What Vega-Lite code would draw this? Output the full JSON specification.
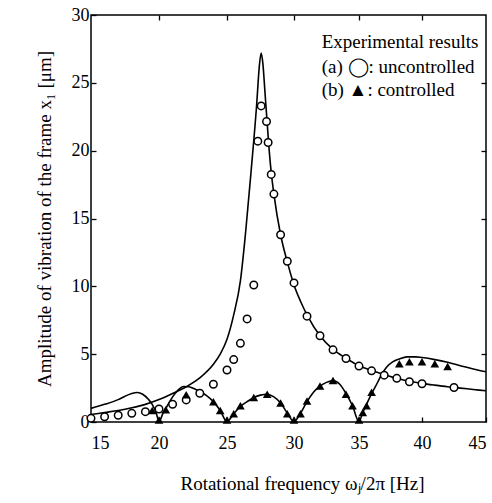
{
  "$schema": "https://vega.github.io/schema/vega-lite/v6.json",
  "width": 395,
  "height": 407,
  "autosize": "none",
  "padding": {"left": 91, "top": 15, "right": 6, "bottom": 81},
  "background": "white",
  "config": {
    "view": {"stroke": "black", "strokeWidth": 1.5},
    "font": "Liberation Serif",
    "axis": {"grid": false, "domain": false, "tickColor": "black", "tickWidth": 1.3, "tickSize": -5, "labelFont": "Liberation Serif", "labelFontSize": 18, "labelColor": "black", "titleFont": "Liberation Serif", "titleFontSize": 19, "titleFontWeight": "normal", "titleColor": "black"}
  },
  "datasets": {
    "uncTheory": [
      {"x": 15, "y": 0.55}, {"x": 16, "y": 0.7}, {"x": 17, "y": 0.85}, {"x": 18, "y": 1.05}, {"x": 19, "y": 1.3},
      {"x": 20, "y": 1.65}, {"x": 21, "y": 2.1}, {"x": 22, "y": 2.6}, {"x": 23, "y": 3.25}, {"x": 24, "y": 4.25},
      {"x": 24.5, "y": 5.0}, {"x": 25, "y": 6.1}, {"x": 25.5, "y": 7.9}, {"x": 26, "y": 10.4}, {"x": 26.4, "y": 14.1},
      {"x": 26.8, "y": 18.5}, {"x": 27.2, "y": 23.2}, {"x": 27.42, "y": 26.3}, {"x": 27.55, "y": 27.2}, {"x": 27.68, "y": 26.4},
      {"x": 27.82, "y": 24.5}, {"x": 28.0, "y": 22.0}, {"x": 28.15, "y": 20.0}, {"x": 28.3, "y": 18.4}, {"x": 28.5, "y": 16.8},
      {"x": 29, "y": 13.8}, {"x": 29.5, "y": 11.8}, {"x": 30, "y": 10.1}, {"x": 30.5, "y": 8.9}, {"x": 31, "y": 7.9},
      {"x": 32, "y": 6.35}, {"x": 33, "y": 5.35}, {"x": 34, "y": 4.7}, {"x": 35, "y": 4.15}, {"x": 36, "y": 3.8},
      {"x": 37, "y": 3.5}, {"x": 38, "y": 3.22}, {"x": 39, "y": 3.0}, {"x": 40, "y": 2.85}, {"x": 41, "y": 2.72},
      {"x": 42, "y": 2.6}, {"x": 43, "y": 2.5}, {"x": 44, "y": 2.4}, {"x": 45, "y": 2.3}
    ],
    "ctlTheory": [
      {"x": 15, "y": 1.0}, {"x": 16, "y": 1.3}, {"x": 17, "y": 1.65}, {"x": 17.5, "y": 1.9}, {"x": 18, "y": 2.1},
      {"x": 18.4, "y": 2.17}, {"x": 18.8, "y": 2.05}, {"x": 19.2, "y": 1.7}, {"x": 19.5, "y": 1.3}, {"x": 19.8, "y": 0.65},
      {"x": 20.0, "y": 0.05}, {"x": 20.3, "y": 0.65}, {"x": 20.7, "y": 1.35}, {"x": 21.0, "y": 1.85}, {"x": 21.4, "y": 2.35},
      {"x": 21.8, "y": 2.62}, {"x": 22.2, "y": 2.6}, {"x": 22.6, "y": 2.45}, {"x": 23.0, "y": 2.25}, {"x": 23.5, "y": 1.95},
      {"x": 24.0, "y": 1.5}, {"x": 24.5, "y": 0.85}, {"x": 25.0, "y": 0.03}, {"x": 25.5, "y": 0.6}, {"x": 26.0, "y": 1.15},
      {"x": 26.5, "y": 1.5}, {"x": 27.0, "y": 1.8}, {"x": 27.5, "y": 1.98}, {"x": 28.0, "y": 2.05}, {"x": 28.5, "y": 1.85},
      {"x": 29.0, "y": 1.4}, {"x": 29.5, "y": 0.65}, {"x": 30.0, "y": 0.03}, {"x": 30.5, "y": 0.65}, {"x": 31.0, "y": 1.5},
      {"x": 31.5, "y": 2.2}, {"x": 32.0, "y": 2.65}, {"x": 32.5, "y": 2.92}, {"x": 33.0, "y": 3.05}, {"x": 33.5, "y": 2.8},
      {"x": 34.0, "y": 2.1}, {"x": 34.5, "y": 1.2}, {"x": 35.0, "y": 0.03}, {"x": 35.3, "y": 0.7}, {"x": 35.6, "y": 1.3},
      {"x": 36.0, "y": 2.1}, {"x": 36.3, "y": 2.6}, {"x": 36.8, "y": 3.5}, {"x": 37.2, "y": 4.05}, {"x": 37.7, "y": 4.45},
      {"x": 38.2, "y": 4.65}, {"x": 38.8, "y": 4.8}, {"x": 39.5, "y": 4.8}, {"x": 40.0, "y": 4.75}, {"x": 41.0, "y": 4.6},
      {"x": 42.0, "y": 4.4}, {"x": 43.0, "y": 4.15}, {"x": 44.0, "y": 3.9}, {"x": 45.0, "y": 3.7}
    ],
    "unc": [
      {"x": 15, "y": 0.27}, {"x": 16, "y": 0.39}, {"x": 17, "y": 0.5}, {"x": 18, "y": 0.64}, {"x": 19, "y": 0.76},
      {"x": 20, "y": 0.96}, {"x": 21, "y": 1.31}, {"x": 22, "y": 1.63}, {"x": 23, "y": 2.12}, {"x": 24, "y": 2.78},
      {"x": 25, "y": 3.83}, {"x": 25.5, "y": 4.6}, {"x": 26, "y": 5.8}, {"x": 26.5, "y": 7.6}, {"x": 27, "y": 10.1},
      {"x": 27.3, "y": 20.7}, {"x": 27.55, "y": 23.3}, {"x": 27.95, "y": 22.15}, {"x": 28.07, "y": 20.6}, {"x": 28.3, "y": 18.25},
      {"x": 28.5, "y": 16.8}, {"x": 29, "y": 13.8}, {"x": 29.5, "y": 11.85}, {"x": 30, "y": 10.25}, {"x": 31, "y": 7.8},
      {"x": 32, "y": 6.36}, {"x": 33, "y": 5.32}, {"x": 34, "y": 4.68}, {"x": 35, "y": 4.12}, {"x": 36, "y": 3.77},
      {"x": 37, "y": 3.45}, {"x": 38, "y": 3.22}, {"x": 39, "y": 2.97}, {"x": 40, "y": 2.82}, {"x": 42.5, "y": 2.54}
    ],
    "ctl": [
      {"x": 19.5, "y": 0.85}, {"x": 20.0, "y": 0.15}, {"x": 20.5, "y": 0.9}, {"x": 22.0, "y": 2.0}, {"x": 24.0, "y": 1.5},
      {"x": 24.5, "y": 0.85}, {"x": 25.0, "y": 0.15}, {"x": 25.5, "y": 0.6}, {"x": 26.0, "y": 1.2}, {"x": 27.0, "y": 1.8},
      {"x": 28.0, "y": 2.05}, {"x": 29.0, "y": 1.4}, {"x": 29.5, "y": 0.6}, {"x": 30.0, "y": 0.15}, {"x": 30.5, "y": 0.6},
      {"x": 31.0, "y": 1.55}, {"x": 32.0, "y": 2.65}, {"x": 33.0, "y": 3.05}, {"x": 34.0, "y": 2.05}, {"x": 34.5, "y": 1.2},
      {"x": 35.0, "y": 0.15}, {"x": 35.3, "y": 0.7}, {"x": 35.6, "y": 1.2}, {"x": 36.0, "y": 2.2}, {"x": 38.2, "y": 4.3},
      {"x": 39.0, "y": 4.45}, {"x": 40.0, "y": 4.45}, {"x": 41.0, "y": 4.3}, {"x": 42.0, "y": 4.1}
    ],
    "legend": [
      {"x": 32.13, "y": 27.55, "label": "Experimental results"},
      {"x": 32.13, "y": 25.75, "label": "(a) ◯: uncontrolled"},
      {"x": 32.13, "y": 24.03, "label": "(b) ▲: controlled"}
    ]
  },
  "layer": [
    {
      "data": {"name": "uncTheory"},
      "mark": {"type": "line", "color": "black", "strokeWidth": 1.6, "interpolate": "monotone", "clip": true},
      "encoding": {
        "x": {"field": "x", "type": "quantitative",
              "scale": {"domain": [15, 20, 25, 30, 35, 40, 45], "range": [0, 68, 136, 203, 268, 331, 395]},
              "axis": {"orient": "bottom", "values": [15, 20, 25, 30, 35, 40, 45], "labelPadding": 17, "labelFont": "Liberation Serif", "labelFontSize": 18, "titleFont": "Liberation Serif", "titleFontSize": 19, "title": "Rotational frequency  ωⱼ/2π [Hz]", "titlePadding": 22, "titleX": 211, "titleAnchor": "middle"}},
        "y": {"field": "y", "type": "quantitative",
              "scale": {"domain": [0, 30], "nice": false},
              "axis": {"orient": "left", "values": [0, 5, 10, 15, 20, 25, 30], "labelPadding": 7, "labelFont": "Liberation Serif", "labelFontSize": 18, "titleFont": "Liberation Serif", "titleFontSize": 19, "title": "Amplitude of vibration of the frame x₁ [μm]", "titlePadding": 17}}
      }
    },
    {
      "data": {"name": "ctlTheory"},
      "mark": {"type": "line", "color": "black", "strokeWidth": 1.6, "interpolate": "monotone", "clip": true},
      "encoding": {
        "x": {"field": "x", "type": "quantitative",
              "scale": {"domain": [15, 20, 25, 30, 35, 40, 45], "range": [0, 68, 136, 203, 268, 331, 395]},
              "axis": {"orient": "top", "values": [20, 25, 30, 35, 40], "labels": false, "title": null}},
        "y": {"field": "y", "type": "quantitative",
              "scale": {"domain": [0, 30], "nice": false},
              "axis": {"orient": "right", "values": [5, 10, 15, 20, 25], "labels": false, "title": null}}
      }
    },
    {
      "data": {"name": "unc"},
      "mark": {"type": "point", "shape": "circle", "filled": true, "fill": "white", "stroke": "black", "strokeWidth": 1.5, "size": 56, "opacity": 1},
      "encoding": {
        "x": {"field": "x", "type": "quantitative", "scale": {"domain": [15, 20, 25, 30, 35, 40, 45], "range": [0, 68, 136, 203, 268, 331, 395]}, "axis": null},
        "y": {"field": "y", "type": "quantitative", "scale": {"domain": [0, 30], "nice": false}, "axis": null}
      }
    },
    {
      "data": {"name": "ctl"},
      "mark": {"type": "point", "shape": "triangle-up", "filled": true, "color": "black", "size": 75, "opacity": 1},
      "encoding": {
        "x": {"field": "x", "type": "quantitative", "scale": {"domain": [15, 20, 25, 30, 35, 40, 45], "range": [0, 68, 136, 203, 268, 331, 395]}, "axis": null},
        "y": {"field": "y", "type": "quantitative", "scale": {"domain": [0, 30], "nice": false}, "axis": null}
      }
    },
    {
      "data": {"name": "legend"},
      "mark": {"type": "text", "align": "left", "baseline": "alphabetic", "font": "Liberation Serif", "fontSize": 19, "color": "black"},
      "encoding": {
        "x": {"field": "x", "type": "quantitative", "scale": {"domain": [15, 20, 25, 30, 35, 40, 45], "range": [0, 68, 136, 203, 268, 331, 395]}, "axis": null},
        "y": {"field": "y", "type": "quantitative", "scale": {"domain": [0, 30], "nice": false}, "axis": null},
        "text": {"field": "label"}
      }
    }
  ],
  "resolve": {"axis": {"x": "independent", "y": "independent"}}
}
